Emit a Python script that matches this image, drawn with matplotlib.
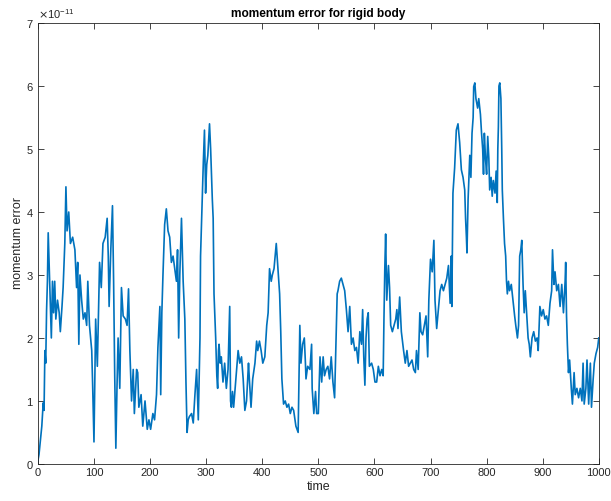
import matplotlib
matplotlib.use("Agg")
import matplotlib.pyplot as plt
from matplotlib.ticker import ScalarFormatter

# time samples
t = [0, 2, 4, 7, 9.5, 11, 12.5, 14, 15.5, 17, 18.4, 20, 22, 24, 26, 28, 30, 32, 35, 38,
     40, 43, 45, 48, 50, 52, 55, 58, 62, 66, 69, 71, 73, 75, 78, 81, 84, 87, 89, 92,
     96, 97.5, 100, 103, 106, 110, 113, 116, 120, 123.5, 125.5, 127, 130, 133, 135, 137, 139, 141, 143, 146,
     149, 152, 156, 159, 161.6, 164, 167, 170, 172, 176, 178, 180, 184, 187, 191, 195, 198, 201, 205, 208,
     211.5, 214, 217.5, 219, 221, 223, 226, 229, 232, 235, 238, 241, 244, 247, 249, 251, 253, 256, 259, 262,
     264, 266, 268, 270, 274, 277, 280, 283, 286, 289, 290, 292, 293.5, 295, 297, 299, 301, 303, 306, 308,
     309.5, 311, 312.5, 314, 317, 319, 320.5, 322, 323, 325, 327, 330, 333, 336, 339, 342, 343.5, 345, 347, 349,
     353, 357, 360, 363, 366, 369, 372, 375.5, 377, 380, 383, 387, 390, 392, 395, 398, 401, 404.6, 408, 410.5,
     413, 416, 418, 421, 425, 428, 431, 433, 435, 438, 441, 444, 447, 450, 453, 456, 460, 464, 465.5, 467,
     469, 472, 475, 477, 478, 481, 485, 488, 489, 492, 495, 497, 500, 503, 506, 508.6, 511, 514, 517, 520,
     523, 526, 529, 532, 533.6, 535, 538, 541, 544, 547, 550, 553, 556, 559, 562, 565, 568, 571, 574, 577,
     579, 581, 583, 585, 587, 589, 591, 595, 598, 601, 604, 607, 610, 613, 615.6, 617, 618.5, 620, 622, 625,
     627, 629, 632, 635, 638, 640, 642, 645, 648, 652, 655, 658, 661, 664, 667, 670, 673, 675, 678, 681,
     683, 686, 689, 692, 695, 697, 700, 703, 706, 708, 711, 714, 717, 720, 723, 726, 729, 732, 735, 737,
     738, 740, 743, 746, 749, 752, 755, 758, 761, 762.5, 764, 765, 767, 770, 772, 774, 776, 777, 779, 781,
     784, 786, 789, 791, 793, 794.5, 796, 798, 800, 802, 804, 805.5, 808, 810, 812, 815, 817, 819, 820, 821,
     822, 823.5, 825.5, 827, 828, 830, 832, 834, 835.5, 837, 839, 841, 844, 847, 850, 852, 855, 857, 859, 861,
     862.7, 865, 867, 869, 872, 874, 876, 878, 881, 884, 887, 890, 892, 895, 898, 901, 904, 907, 910, 913,
     916, 917.5, 920, 922, 925, 928, 931, 934, 937, 940, 941, 942.5, 944, 946, 948, 951, 953, 956, 958, 961,
     964, 967, 970, 972, 974, 977, 979, 982, 985, 987, 990, 992, 995, 998, 1000]

# momentum error in units of 1e-11
err = [0.05, 0.15, 0.33, 0.6, 0.97, 0.85, 1.8, 1.6, 2.44, 2.9, 3.67, 3.2, 2.6, 2.0, 2.9, 2.4, 2.9, 2.3, 2.6, 2.4,
       2.1, 2.5, 2.8, 3.5, 4.4, 3.7, 4.0, 3.5, 3.6, 3.4, 2.8, 3.2, 1.9, 3.0, 2.6, 2.3, 2.4, 2.2, 2.9, 2.2,
       1.8, 1.3, 0.35, 2.3, 1.55, 3.2, 2.8, 3.5, 3.6, 3.9, 3.3, 2.5, 3.4, 4.1, 2.9, 1.4, 0.25, 1.2, 2.0, 1.2,
       2.8, 2.35, 2.3, 2.2, 2.78, 1.8, 1.0, 1.5, 0.8, 1.5, 1.45, 0.9, 1.1, 0.6, 1.0, 0.55, 0.7, 0.55, 0.8, 0.7,
       1.1, 1.85, 2.5, 1.1, 2.4, 3.0, 3.8, 4.05, 3.7, 3.6, 3.2, 3.3, 3.1, 2.9, 3.4, 2.0, 3.0, 3.9, 2.9, 2.3,
       1.3, 0.5, 0.7, 0.75, 0.8, 0.65, 1.1, 1.5, 0.7, 2.0, 3.3, 3.9, 4.4, 4.8, 5.3, 4.3, 4.75, 4.9, 5.4, 5.0,
       4.6, 4.2, 3.9, 2.7, 2.0, 1.4, 1.2, 1.8, 1.9, 1.6, 1.7, 1.3, 1.6, 1.2, 1.5, 2.5, 1.0, 0.9, 1.15, 0.9,
       1.35, 1.8, 1.6, 1.7, 1.35, 0.85, 1.0, 1.6, 1.35, 0.9, 1.35, 1.6, 1.95, 1.8, 1.95, 1.8, 1.6, 1.7, 2.2, 2.4,
       3.1, 2.9, 3.0, 3.1, 3.5, 3.1, 2.7, 2.1, 1.35, 0.95, 1.0, 0.9, 0.95, 0.8, 0.9, 0.85, 0.6, 0.5, 1.3, 2.2,
       1.6, 1.9, 2.0, 1.6, 1.35, 1.55, 1.5, 1.9, 1.2, 0.8, 1.15, 0.8, 0.8, 1.7, 1.3, 1.7, 1.4, 1.5, 1.55, 1.35,
       1.7, 1.3, 1.05, 2.1, 2.7, 2.75, 2.9, 2.95, 2.85, 2.75, 2.45, 2.1, 2.5, 1.9, 2.0, 1.8, 1.85, 1.6, 2.1, 1.9,
       2.45, 1.7, 1.25, 2.0, 2.3, 2.4, 1.55, 1.6, 1.5, 1.3, 1.3, 1.55, 1.4, 1.5, 1.4, 2.3, 3.1, 3.65, 2.6, 3.15,
       2.8, 2.2, 2.1, 2.2, 2.3, 2.45, 2.15, 2.65, 2.1, 1.8, 1.6, 1.8, 1.55, 1.6, 1.65, 1.5, 1.45, 1.8, 1.5, 2.4,
       2.1, 2.05, 2.2, 2.35, 1.7, 2.6, 3.25, 3.05, 3.55, 2.6, 2.15, 2.45, 2.75, 2.85, 2.75, 2.85, 2.95, 3.15, 2.55, 3.3,
       2.5, 4.3, 4.7, 5.3, 5.4, 5.1, 4.67, 4.55, 4.35, 3.9, 3.6, 3.35, 4.2, 4.9, 4.55, 5.25, 5.5, 5.99, 6.05, 5.8,
       5.65, 5.8, 5.55, 5.25, 5.0, 4.6, 5.25, 4.85, 4.6, 5.2, 4.85, 4.35, 4.55, 4.25, 4.5, 4.3, 4.65, 4.15, 5.0, 5.35,
       6.0, 6.05, 5.8, 5.0, 4.35, 3.9, 3.5, 3.3, 2.9, 2.7, 2.9, 2.75, 2.85, 2.6, 2.35, 2.2, 2.0, 2.2, 3.3, 3.4,
       3.55, 2.85, 2.4, 2.75, 2.3, 2.0, 1.9, 1.7, 2.0, 2.1, 1.95, 2.0, 1.8, 2.5, 2.35, 2.45, 2.3, 2.35, 2.2, 2.55,
       2.75, 3.4, 2.85, 3.05, 2.75, 2.85, 2.5, 2.85, 2.4, 2.9, 3.2, 2.35, 1.9, 1.45, 1.65, 1.2, 0.95, 1.45, 1.1, 1.2,
       1.05, 1.2, 1.0, 1.6, 0.95, 1.2, 1.65, 0.95, 1.6, 0.9, 1.35, 1.6, 1.75, 1.85, 2.0]

plt.rcParams['font.family'] = ['Liberation Sans', 'DejaVu Sans']
plt.rcParams['text.color'] = '#262626'

fig = plt.figure(figsize=(6.11, 5.01), dpi=100)
ax = fig.add_axes([0.062, 0.074, 0.918, 0.88])

ax.plot(t, [e * 1e-11 for e in err], color="#0072BD", linewidth=1.2)

ax.set_xlim(0, 1000)
ax.set_ylim(0, 7e-11)
ax.set_xticks(range(0, 1001, 100))
ax.set_yticks([i * 1e-11 for i in range(8)])

fmt = ScalarFormatter(useMathText=True)
fmt.set_powerlimits((0, 0))
ax.yaxis.set_major_formatter(fmt)
ax.yaxis.get_offset_text().set_fontsize(8)
ax.yaxis.get_offset_text().set_color("#262626")

ax.set_title("momentum error for rigid body", fontsize=8.6, fontweight="bold", pad=4, color="black")
ax.set_xlabel("time", fontsize=9, labelpad=2, color="#262626")
ax.set_ylabel("momentum error", fontsize=9, labelpad=1, color="#262626")

ax.tick_params(axis="both", which="major", labelsize=8, direction="in", length=4,
               top=True, right=True, color="#262626", labelcolor="#262626", width=0.6, pad=3)
for s in ax.spines.values():
    s.set_color("#262626")
    s.set_linewidth(0.6)

fig.savefig("out.png", dpi=100)
